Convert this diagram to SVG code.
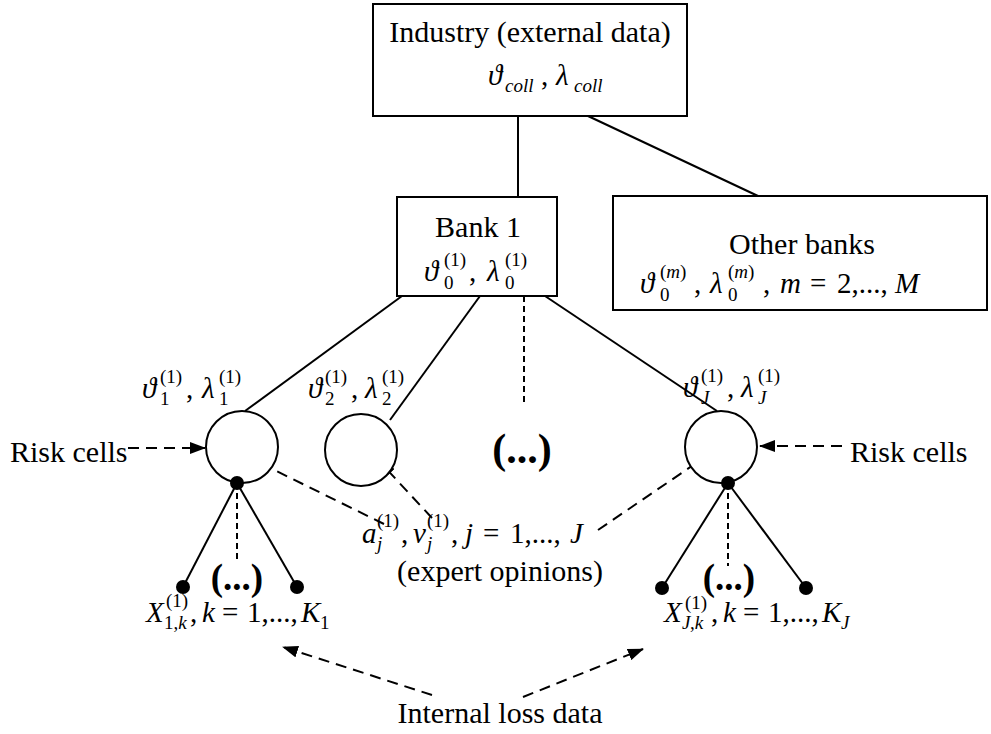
<svg xmlns="http://www.w3.org/2000/svg" width="991" height="734" viewBox="0 0 991 734">
<style>
.t{font-family:"Liberation Serif","Times New Roman","DejaVu Serif",serif;fill:#000}
.L{font-size:30px}
.M{font-size:29px}
.i{font-style:italic}
.s{font-size:19px}
.b{font-weight:bold}
.box{fill:#fff;stroke:#000;stroke-width:2}
.ln{stroke:#000;stroke-width:2;fill:none}
.da{stroke:#000;stroke-width:2;fill:none;stroke-dasharray:11 7}
.dt{stroke:#000;stroke-width:2;fill:none;stroke-dasharray:6 4}
.c{fill:#fff;stroke:#000;stroke-width:2}
.dot{fill:#000}
</style>
<defs>
<marker id="ah" markerUnits="userSpaceOnUse" markerWidth="16" markerHeight="12" refX="15" refY="6" orient="auto">
<path d="M0,0 L16,6 L0,12 z" fill="#000"/>
</marker>
</defs>
<rect width="991" height="734" fill="#fff"/>

<g id="connectors">
<line class="ln" x1="518" y1="116" x2="518" y2="198"/>
<line class="ln" x1="588" y1="116" x2="758" y2="196"/>
<line class="ln" x1="402" y1="296" x2="245" y2="411"/>
<line class="ln" x1="480" y1="296" x2="390" y2="420"/>
<line class="dt" x1="524" y1="296" x2="524" y2="402"/>
<line class="ln" x1="545" y1="296" x2="717" y2="411"/>
<line class="da" x1="128" y1="448" x2="205" y2="448" marker-end="url(#ah)"/>
<line class="da" x1="842" y1="446" x2="760" y2="446" marker-end="url(#ah)"/>
<line class="da" x1="384" y1="524" x2="256" y2="461" marker-end="url(#ah)"/>
<line class="da" x1="432" y1="518" x2="380" y2="462" marker-end="url(#ah)"/>
<line class="da" x1="598" y1="530" x2="708" y2="455" marker-end="url(#ah)"/>
<line class="ln" x1="237" y1="483" x2="183" y2="587"/>
<line class="ln" x1="237" y1="483" x2="297" y2="587"/>
<line class="dt" x1="237" y1="483" x2="237" y2="562"/>
<line class="ln" x1="728" y1="483" x2="662" y2="588"/>
<line class="ln" x1="728" y1="483" x2="806" y2="588"/>
<line class="dt" x1="728" y1="483" x2="728" y2="566"/>
<line class="da" x1="432" y1="695" x2="283" y2="647" marker-end="url(#ah)"/>
<line class="da" x1="523" y1="697" x2="643" y2="649" marker-end="url(#ah)"/>
</g>

<g id="industry">
<rect class="box" x="373" y="4" width="314" height="112"/>
<text class="t L" x="530" y="42" text-anchor="middle">Industry (external data)</text>
<text class="t M"><tspan class="i" x="488" y="85">ϑ</tspan><tspan class="s i" x="505" y="92">coll</tspan><tspan x="541" y="85">,</tspan><tspan class="i" x="556" y="85">λ</tspan><tspan class="s i" x="574" y="92">coll</tspan></text>
</g>

<g id="bank1">
<rect class="box" x="397" y="197" width="160" height="99"/>
<text class="t L" x="478" y="237" text-anchor="middle">Bank 1</text>
<text class="t M"><tspan class="i" x="424" y="281">ϑ</tspan><tspan class="s" x="444" y="289">0</tspan><tspan class="s" x="444" y="266">(1)</tspan><tspan x="469" y="281">,</tspan><tspan class="i" x="487" y="281">λ</tspan><tspan class="s" x="505" y="289">0</tspan><tspan class="s" x="505" y="266">(1)</tspan></text>
</g>

<g id="otherbanks">
<rect class="box" x="613" y="196" width="374" height="114"/>
<text class="t L" x="802" y="254" text-anchor="middle">Other banks</text>
<text class="t M"><tspan class="i" x="640" y="293">ϑ</tspan><tspan class="s" x="660" y="301">0</tspan><tspan class="s" x="660" y="278">(<tspan class="i">m</tspan>)</tspan><tspan x="694" y="293">,</tspan><tspan class="i" x="710" y="293">λ</tspan><tspan class="s" x="728" y="301">0</tspan><tspan class="s" x="728" y="278">(<tspan class="i">m</tspan>)</tspan><tspan x="763" y="293">,</tspan><tspan class="i" x="780" y="293">m</tspan><tspan x="810" y="293">=</tspan><tspan x="837" y="293">2,...,</tspan><tspan class="i" x="895" y="293">M</tspan></text>
</g>

<g id="cell1">
<circle class="c" cx="242" cy="447" r="36"/>
<circle class="dot" cx="237" cy="483" r="7"/>
<text class="t M"><tspan class="i" x="142" y="398">ϑ</tspan><tspan class="s" x="160" y="405">1</tspan><tspan class="s" x="160" y="383">(1)</tspan><tspan x="186" y="398">,</tspan><tspan class="i" x="202" y="398">λ</tspan><tspan class="s" x="219" y="405">1</tspan><tspan class="s" x="219" y="383">(1)</tspan></text>
</g>

<g id="cell2">
<circle class="c" cx="361" cy="450" r="36"/>
<text class="t M"><tspan class="i" x="308" y="398">ϑ</tspan><tspan class="s" x="325" y="405">2</tspan><tspan class="s" x="325" y="383">(1)</tspan><tspan x="351" y="398">,</tspan><tspan class="i" x="365" y="398">λ</tspan><tspan class="s" x="382" y="405">2</tspan><tspan class="s" x="382" y="383">(1)</tspan></text>
</g>

<g id="cellmore">
<text class="t b" x="522" y="463" text-anchor="middle" style="font-size:42px">(...)</text>
</g>

<g id="cellJ">
<circle class="c" cx="721" cy="447" r="36"/>
<circle class="dot" cx="728" cy="483" r="7"/>
<text class="t M"><tspan class="i" x="683" y="397">ϑ</tspan><tspan class="s i" x="701" y="404">J</tspan><tspan class="s" x="701" y="382">(1)</tspan><tspan x="727" y="397">,</tspan><tspan class="i" x="741" y="397">λ</tspan><tspan class="s i" x="758" y="404">J</tspan><tspan class="s" x="758" y="382">(1)</tspan></text>
</g>

<g id="riskcells-left">
<text class="t L" x="10" y="462">Risk cells</text>
</g>
<g id="riskcells-right">
<text class="t L" x="850" y="462">Risk cells</text>
</g>

<g id="expert">
<text class="t M"><tspan class="i" x="362" y="543">a</tspan><tspan class="s i" x="377" y="550">j</tspan><tspan class="s" x="377" y="527">(1)</tspan><tspan x="401" y="543">,</tspan><tspan class="i" x="413" y="543">ν</tspan><tspan class="s i" x="427" y="550">j</tspan><tspan class="s" x="427" y="527">(1)</tspan><tspan x="451" y="543">,</tspan><tspan class="i" x="465" y="543">j</tspan><tspan x="483" y="543">=</tspan><tspan x="510" y="543">1,...,</tspan><tspan class="i" x="570" y="543">J</tspan></text>
<text class="t L" x="500" y="581" text-anchor="middle">(expert opinions)</text>
</g>

<g id="leaves1">
<circle class="dot" cx="183" cy="587" r="7"/>
<circle class="dot" cx="297" cy="587" r="7"/>
<text class="t b" x="237" y="590" text-anchor="middle" style="font-size:37px">(...)</text>
<text class="t M"><tspan class="i" x="146" y="622">X</tspan><tspan class="s" x="164" y="629">1,<tspan class="i">k</tspan></tspan><tspan class="s" x="166" y="607">(1)</tspan><tspan x="190" y="622">,</tspan><tspan class="i" x="202" y="622">k</tspan><tspan x="222" y="622">=</tspan><tspan x="247" y="622">1,...,</tspan><tspan class="i" x="301" y="622">K</tspan><tspan class="s" x="320" y="629">1</tspan></text>
</g>

<g id="leavesJ">
<circle class="dot" cx="662" cy="588" r="7"/>
<circle class="dot" cx="806" cy="588" r="7"/>
<text class="t b" x="729" y="590" text-anchor="middle" style="font-size:37px">(...)</text>
<text class="t M"><tspan class="i" x="664" y="622">X</tspan><tspan class="s i" x="682" y="629">J</tspan><tspan class="s" x="690" y="629">,<tspan class="i">k</tspan></tspan><tspan class="s" x="685" y="609">(1)</tspan><tspan x="711" y="622">,</tspan><tspan class="i" x="723" y="622">k</tspan><tspan x="743" y="622">=</tspan><tspan x="768" y="622">1,...,</tspan><tspan class="i" x="822" y="622">K</tspan><tspan class="s i" x="841" y="629">J</tspan></text>
</g>

<g id="internal">
<text class="t L" x="500" y="723" text-anchor="middle">Internal loss data</text>
</g>
</svg>
